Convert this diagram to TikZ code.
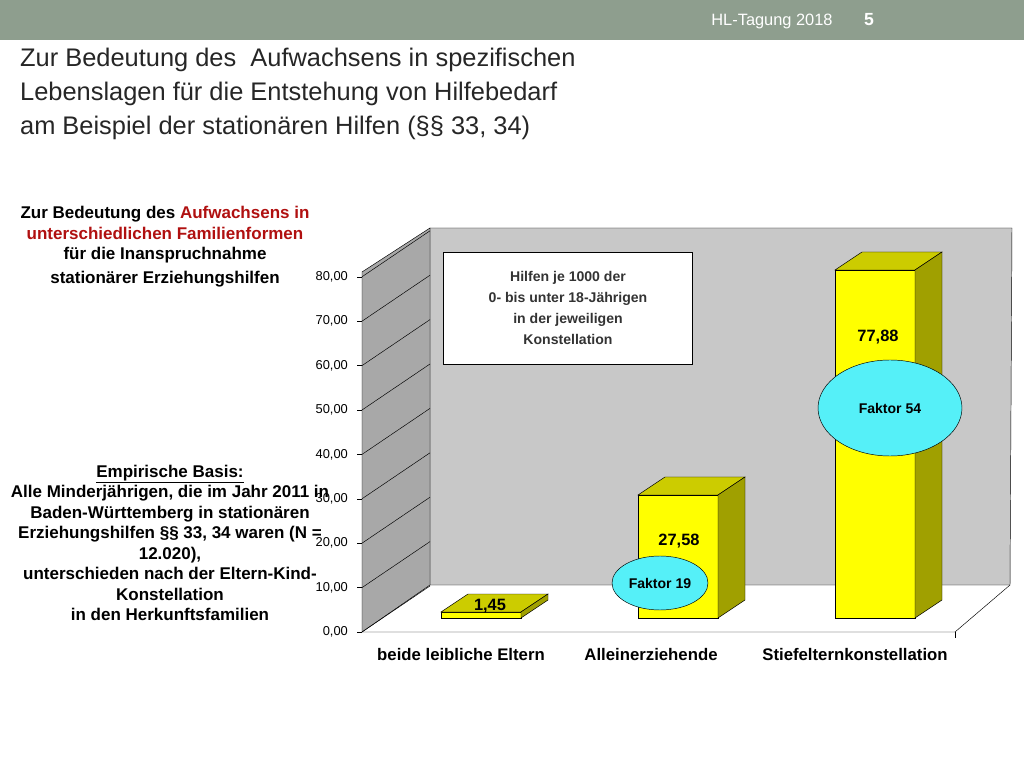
\documentclass[tikz,border=0pt]{standalone}
\usepackage{fontspec}
\setmainfont{Liberation Sans}
\usetikzlibrary{positioning,shapes.geometric}
\definecolor{topbar}{HTML}{8E9E8E}
\definecolor{wallgray}{HTML}{C8C8C8}
\definecolor{sidegray}{HTML}{A8A8A8}
\definecolor{barfront}{HTML}{FFFF00}
\definecolor{bartop}{HTML}{CCCC00}
\definecolor{barside}{HTML}{A0A000}
\definecolor{fakcyan}{HTML}{55F0F8}
\definecolor{darkred}{HTML}{B01010}
\tikzset{
  titletext/.style={anchor=west,font=\fontsize{21.7}{24}\selectfont,text=black!85},
  boldtext/.style={font=\fontsize{14.5}{17}\selectfont\bfseries,align=center},
  ticklabel/.style={anchor=east,font=\fontsize{11}{12}\selectfont},
  valuelabel/.style={font=\fontsize{14}{16}\selectfont\bfseries},
  catlabel/.style={font=\fontsize{14.3}{16}\selectfont\bfseries},
  faktor/.style={ellipse,draw,fill=fakcyan,font=\fontsize{12}{13}\selectfont\bfseries},
}
\newcommand{\drawbar}[3]{% x, top y, name
  \fill[barfront,draw=black] (#1,618) rectangle (#1+80,#2);
  \fill[bartop,draw=black] (#1,#2) -- (#1+27,#2-18) -- (#1+107,#2-18) -- (#1+80,#2) -- cycle;
  \fill[barside,draw=black] (#1+80,618) -- (#1+107,600) -- (#1+107,#2-18) -- (#1+80,#2) -- cycle;
  \coordinate (#3) at (#1+40,#2);
}
\begin{document}
\begin{tikzpicture}[x=0.03cm,y=-0.03cm]
  \useasboundingbox (0,0) rectangle (1024,768);
  % kopfzeile
  \fill[topbar] (0,0) rectangle (1024,40);
  \node[text=white,font=\fontsize{14}{15}\selectfont] (tagung) at (772,21) {HL-Tagung 2018};
  \node[text=white,font=\fontsize{15}{16}\selectfont\bfseries] (seite) at (869,20) {5};
  % titel
  \node[titletext] (t1) at (16,60) {Zur Bedeutung des\ \ Aufwachsens in spezifischen};
  \node[titletext] (t2) at (16,94) {Lebenslagen für die Entstehung von Hilfebedarf};
  \node[titletext] (t3) at (16,128) {am Beispiel der stationären Hilfen (§§ 33, 34)};
  % linke texte
  \node[boldtext,font=\fontsize{14.5}{17.5}\selectfont\bfseries] (intro) at (165,247)
    {Zur Bedeutung des \textcolor{darkred}{Aufwachsens in}\\ \textcolor{darkred}{unterschiedlichen Familienformen}\\ für die Inanspruchnahme\\[3pt] stationärer Erziehungshilfen};
  \node[boldtext,font=\fontsize{14.5}{17.5}\selectfont\bfseries] (basis) at (170,543)
    {\underline{Empirische Basis:}\\ Alle Minderjährigen, die im Jahr 2011 in\\ Baden-Württemberg in stationären\\ Erziehungshilfen §§ 33, 34 waren (N =\\ 12.020),\\ unterschieden nach der Eltern-Kind-\\ Konstellation\\ in den Herkunftsfamilien};
  % diagramm: wände und boden
  \fill[wallgray,draw=black] (430,228) -- (1012,228) -- (1010,585) -- (430,585) -- cycle;
  \fill[sidegray,draw=black] (362,272) -- (430,228) -- (430,585) -- (362,632) -- cycle;
  \draw (362,632) -- (955,632) -- (1010,585);
  \draw (955,632) -- (955,638);
  \foreach \v [evaluate=\v as \yy using 632-4.44*\v] in {0,10,...,80}{
    \draw (362,\yy) -- (430,\yy-46);
    \draw (357,\yy) -- (362,\yy);
    \node[ticklabel] at (352,\yy) {\v,00};
  }
  % balken
  \drawbar{441}{612}{b1}
  \drawbar{638}{495}{b2}
  \drawbar{835}{270}{b3}
  \node[valuelabel] (v1) at (490,606) {1,45};
  \node[valuelabel] (v2) at (679,541) {27,58};
  \node[valuelabel] (v3) at (878,337) {77,88};
  % legende
  \node[draw,fill=white,minimum width=249*0.03cm,minimum height=112*0.03cm,
        font=\fontsize{12}{18}\selectfont\bfseries,align=center,text=black!80] (legende) at (568,308)
    {Hilfen je 1000 der\\ 0- bis unter 18-Jährigen\\ in der jeweiligen\\ Konstellation};
  % faktoren
  \node[faktor,minimum width=96*0.03cm,minimum height=54*0.03cm,inner sep=1pt] (f19) at (660,583) {Faktor 19};
  \node[faktor,minimum width=144*0.03cm,minimum height=96*0.03cm] (f54) at (890,408) {Faktor 54};
  % kategorien
  \node[catlabel] (k1) at (461,655) {beide leibliche Eltern};
  \node[catlabel] (k2) at (651,655) {Alleinerziehende};
  \node[catlabel] (k3) at (855,655) {Stiefelternkonstellation};
\end{tikzpicture}
\end{document}
